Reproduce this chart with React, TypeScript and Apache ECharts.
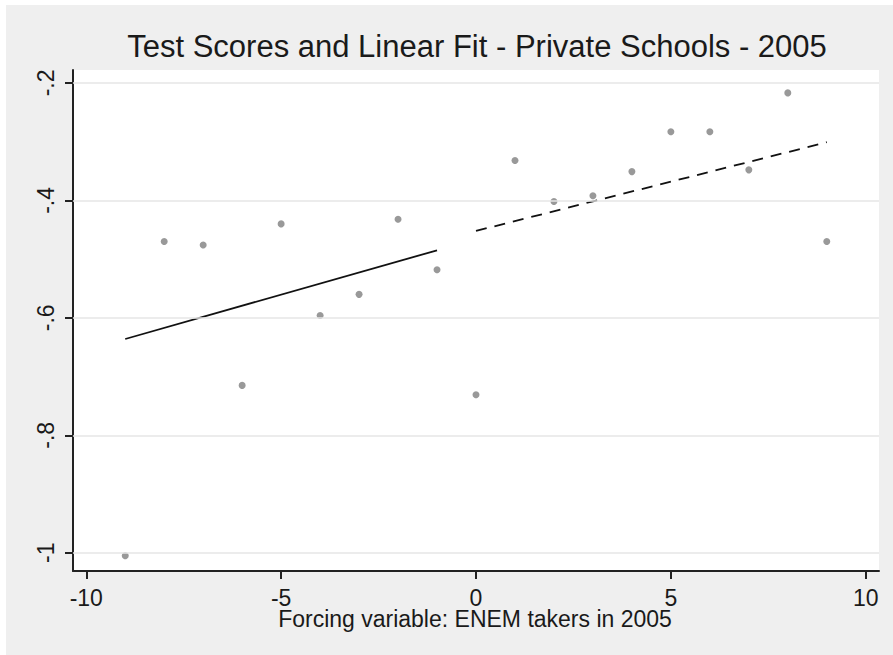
import React, { useEffect, useRef } from "react";
import * as echarts from "echarts";

const scoreX = [-9, -8, -7, -6, -5, -4, -3, -2, -1, 0, 1, 2, 3, 4, 5, 6, 7, 8, 9];
const scoreY = [-1.005, -0.47, -0.476, -0.715, -0.44, -0.596, -0.56, -0.432, -0.518, -0.731, -0.332, -0.402, -0.392, -0.351, -0.283, -0.283, -0.348, -0.217, -0.47];
const leftFitX = [-9, -1];
const leftFitY = [-0.636, -0.485];
const rightFitX = [0, 9];
const rightFitY = [-0.452, -0.301];
const xTicks = [-10, -5, 0, 5, 10];
const yTicks = [-1, -0.8, -0.6, -0.4, -0.2];

const titleText = "Test Scores and Linear Fit - Private Schools - 2005";
const xTitle = "Forcing variable: ENEM takers in 2005";

const FONT = "'Liberation Sans', Arial, sans-serif";
const TXT = "#1a1a1a";

function fmtY(v: number) {
  const s = String(Math.round(v * 10) / 10);
  return s.replace("0.", ".");
}

export default function App() {
  const ref = useRef<HTMLDivElement>(null);
  useEffect(() => {
    if (!ref.current) return;
    const chart = echarts.init(ref.current, undefined, { renderer: "svg" });
    chart.setOption({
      animation: false,
      backgroundColor: "#ffffff",
      graphic: [
        {
          type: "rect",
          z: -10,
          silent: true,
          shape: { x: 6, y: 5, width: 887, height: 650 },
          style: { fill: "#efefef" },
        },
        {
          type: "text",
          z: 10,
          x: 477,
          y: 46.5,
          style: {
            text: titleText,
            fill: TXT,
            font: `31px ${FONT}`,
            align: "center",
            verticalAlign: "middle",
          },
        },
        {
          type: "text",
          z: 10,
          x: 475,
          y: 618.5,
          style: {
            text: xTitle,
            fill: TXT,
            font: `23px ${FONT}`,
            align: "center",
            verticalAlign: "middle",
          },
        },
      ],
      grid: {
        left: 73,
        right: 14,
        top: 70,
        bottom: 84,
        show: true,
        backgroundColor: "#ffffff",
        borderWidth: 0,
      },
      xAxis: {
        type: "value",
        min: -10.34,
        max: 10.34,
        axisLine: { show: true, onZero: false, lineStyle: { color: "#222", width: 2 } },
        axisTick: { show: true, length: 8, customValues: xTicks, lineStyle: { color: "#222", width: 2 } },
        axisLabel: {
          customValues: xTicks,
          margin: 15,
          color: TXT,
          fontFamily: FONT,
          fontSize: 23,
          formatter: (v: number) => String(v),
        },
        splitLine: { show: false },
      },
      yAxis: {
        type: "value",
        min: -1.031,
        max: -0.178,
        axisLine: { show: true, onZero: false, lineStyle: { color: "#222", width: 2 } },
        axisTick: { show: true, length: 8, customValues: yTicks, lineStyle: { color: "#222", width: 2 } },
        axisLabel: {
          customValues: yTicks,
          rotate: 90,
          margin: 16,
          color: TXT,
          fontFamily: FONT,
          fontSize: 23,
          formatter: (v: number) => fmtY(v),
        },
        splitLine: { show: false },
      },
      series: [
        {
          type: "line",
          z: 1,
          data: [],
          markLine: {
            silent: true,
            symbol: ["none", "none"],
            label: { show: false },
            lineStyle: { color: "#e6e6e6", width: 1.5, type: "solid" },
            data: yTicks.map((v) => ({ yAxis: v })),
          },
        },
        {
          type: "line",
          z: 3,
          symbol: "none",
          data: leftFitX.map((x, i) => [x, leftFitY[i]]),
          lineStyle: { color: "#111", width: 1.8, type: "solid" },
        },
        {
          type: "line",
          z: 3,
          symbol: "none",
          data: rightFitX.map((x, i) => [x, rightFitY[i]]),
          lineStyle: { color: "#111", width: 1.8, type: [11, 8] },
        },
        {
          type: "scatter",
          z: 4,
          symbol: "circle",
          symbolSize: 7,
          itemStyle: { color: "#808080" },
          data: scoreX.map((x, i) => [x, scoreY[i]]),
        },
      ],
    });
    return () => chart.dispose();
  }, []);
  return (
    <div
      ref={ref}
      style={{ position: "fixed", left: 0, top: 0, width: 893, height: 655 }}
    />
  );
}
